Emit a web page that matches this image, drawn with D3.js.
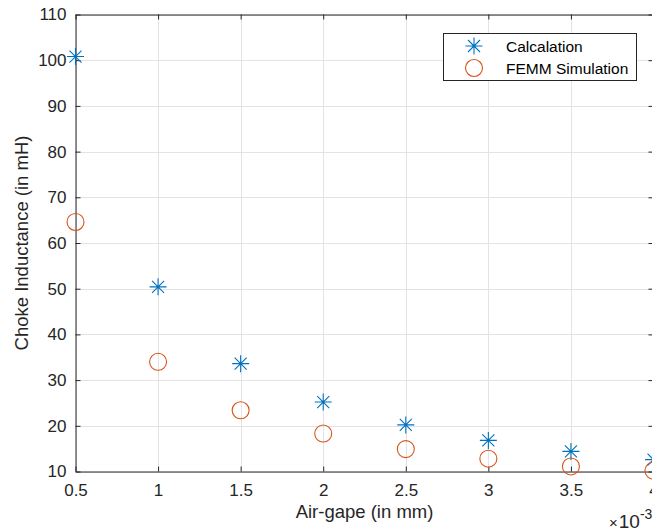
<!DOCTYPE html>
<html>
<head>
<meta charset="utf-8">
<script src="https://cdn.jsdelivr.net/npm/d3@7"></script>
<style>
  html, body { margin: 0; padding: 0; background: #fff; overflow: hidden; }
  svg { display: block; font-family: "Liberation Sans", Arial, Helvetica, sans-serif; }
</style>
</head>
<body>
<svg id="chart" width="652" height="531"></svg>
<script>
// Air gap (x 10^-3) and inductance values (mH)
const airGap = [0.5, 1, 1.5, 2, 2.5, 3, 3.5, 4];
const calculated = [100.8, 50.4, 33.6, 25.2, 20.2, 16.8, 14.4, 12.6];
const femmSim = [64.6, 34.0, 23.4, 18.3, 14.9, 12.8, 11.1, 10.2];

const xTicks = [0.5, 1, 1.5, 2, 2.5, 3, 3.5, 4];
const yTicks = [10, 20, 30, 40, 50, 60, 70, 80, 90, 100, 110];
const seriesNames = ["Calcalation", "FEMM Simulation"];

const blue = "#0072BD", orange = "#D95319", ink = "#262626";

const svg = d3.select("#chart");
const plotL = 75.5, plotR = 653.5, plotT = 14.5, plotB = 471.5;

const x = d3.scaleLinear().domain([0.5, 4]).range([plotL, plotR]);
const y = d3.scaleLinear().domain([10, 110]).range([plotB, plotT]);

// grid
const grid = svg.append("g").attr("stroke", "#e3e3e3").attr("stroke-width", 1);
grid.selectAll(".gx").data(xTicks).join("line")
  .attr("x1", d => Math.round(x(d)) + 0.5).attr("x2", d => Math.round(x(d)) + 0.5)
  .attr("y1", plotT).attr("y2", plotB);
grid.selectAll(".gy").data(yTicks).join("line")
  .attr("y1", d => Math.round(y(d)) + 0.5).attr("y2", d => Math.round(y(d)) + 0.5)
  .attr("x1", plotL).attr("x2", plotR);

// axes (ticks inward, box on all sides)
const tickLen = 5;
function styleAxis(g) {
  g.select(".domain").attr("stroke", ink);
  g.selectAll(".tick line").attr("stroke", ink);
  g.selectAll(".tick text").attr("fill", ink).attr("font-size", 17)
    .attr("font-family", "Liberation Sans, Arial, sans-serif");
}
const xAxis = d3.axisBottom(x).tickValues(xTicks).tickSize(-tickLen).tickSizeOuter(0)
  .tickPadding(12).tickFormat(d3.format("~g"));
svg.append("g").attr("transform", `translate(0,${plotB})`).call(xAxis).call(styleAxis);
svg.append("g").attr("transform", `translate(0,${plotT})`)
  .call(d3.axisTop(x).tickValues(xTicks).tickSize(-tickLen).tickSizeOuter(0).tickFormat(""))
  .call(styleAxis);
const yAxis = d3.axisLeft(y).tickValues(yTicks).tickSize(-tickLen).tickSizeOuter(0).tickPadding(9);
svg.append("g").attr("transform", `translate(${plotL},0)`).call(yAxis).call(styleAxis);
svg.append("g").attr("transform", `translate(${plotR},0)`)
  .call(d3.axisRight(y).tickValues(yTicks).tickSize(-tickLen).tickSizeOuter(0).tickFormat(""))
  .call(styleAxis);

// axis labels
svg.append("text").attr("x", (plotL + plotR) / 2).attr("y", 518)
  .attr("text-anchor", "middle").attr("font-size", 18.5).attr("fill", ink)
  .text("Air-gape (in mm)");
svg.append("text").attr("transform", `translate(28,${(plotT + plotB) / 2}) rotate(-90)`)
  .attr("text-anchor", "middle").attr("font-size", 18.5).attr("fill", ink)
  .text("Choke Inductance (in mH)");

// exponent label
const ex = svg.append("text").attr("x", 609).attr("y", 528).attr("font-size", 19).attr("fill", ink);
ex.append("tspan").attr("font-size", 15).text("\u00d7");
ex.append("tspan").attr("dx", 1).text("10");
ex.append("tspan").attr("dy", -9).attr("font-size", 14).text("-3");

// markers
const starR = 8.5, circR = 8.5;
function star(g, cx, cy, r) {
  const d = r * Math.SQRT1_2;
  const p = `M${cx - r},${cy}L${cx + r},${cy}M${cx},${cy - r}L${cx},${cy + r}` +
            `M${cx - d},${cy - d}L${cx + d},${cy + d}M${cx - d},${cy + d}L${cx + d},${cy - d}`;
  g.append("path").attr("d", p).attr("stroke", blue).attr("stroke-width", 1.1).attr("fill", "none");
}

const pts = svg.append("g");
calculated.forEach((v, i) => star(pts, x(airGap[i]), y(v), starR));
pts.selectAll("circle").data(femmSim).join("circle")
  .attr("cx", (d, i) => x(airGap[i])).attr("cy", d => y(d)).attr("r", circR)
  .attr("fill", "none").attr("stroke", orange).attr("stroke-width", 1.1);

// legend
const lg = svg.append("g");
lg.append("rect").attr("x", 443.5).attr("y", 33.5).attr("width", 193).attr("height", 47)
  .attr("fill", "#fff").attr("stroke", ink).attr("stroke-width", 1);
star(lg, 474, 46, starR);
lg.append("circle").attr("cx", 474).attr("cy", 68).attr("r", circR)
  .attr("fill", "none").attr("stroke", orange).attr("stroke-width", 1.1);
lg.selectAll("text.lt").data(seriesNames).join("text")
  .attr("x", 506).attr("y", (d, i) => 51.5 + i * 22.5)
  .attr("font-size", 15.5).attr("fill", "#000").text(d => d);
</script>
</body>
</html>
